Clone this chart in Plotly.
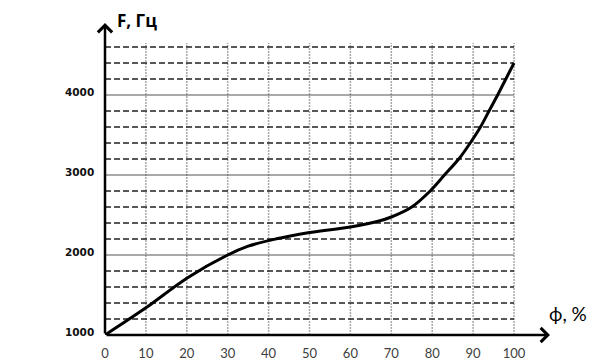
import plotly.graph_objects as go

# Curve data
phi = [0, 10, 20, 30, 35, 40, 45, 50, 60, 67, 70, 75, 79.5, 83, 86.5, 89.3, 91.8, 93.9, 96, 98, 100]
freq = [1000, 1340, 1710, 2000, 2110, 2180, 2235, 2280, 2350, 2425, 2475, 2600, 2800, 3000, 3200, 3400, 3600, 3800, 4000, 4200, 4400]

x_ticks = [0, 10, 20, 30, 40, 50, 60, 70, 80, 90, 100]
y_major = [1000, 2000, 3000, 4000]
y_minor = [v for v in range(1200, 4800, 200) if v % 1000 != 0]
x_grid = [10, 20, 30, 40, 50, 60, 70, 80, 90, 100]

x_max = 108.8
y_max = 4900
grid_top = 4650

fig = go.Figure()
fig.add_trace(go.Scatter(x=phi, y=freq, mode="lines",
                         line=dict(color="black", width=3, shape="spline", smoothing=0.8),
                         hoverinfo="skip"))

shapes = []
for gx in x_grid:
    shapes.append(dict(type="line", xref="x", yref="y", x0=gx, x1=gx, y0=1000, y1=grid_top,
                       line=dict(color="#a8a8a8", width=1.5, dash="2px,1px"), layer="below"))
for gy in y_minor:
    shapes.append(dict(type="line", xref="x", yref="y", x0=0, x1=100, y0=gy, y1=gy,
                       line=dict(color="#222222", width=1.6, dash="6px,3px"), layer="below"))
for gy in y_major[1:]:
    shapes.append(dict(type="line", xref="x", yref="y", x0=0, x1=100, y0=gy, y1=gy,
                       line=dict(color="#555555", width=1), layer="below"))

annotations = []
# axes with arrows
annotations.append(dict(x=x_max, y=1000, ax=0, ay=1000, xref="x", yref="y", axref="x", ayref="y",
                        showarrow=True, arrowhead=4, arrowsize=1.1, arrowwidth=2.5, arrowcolor="black", text=""))
annotations.append(dict(x=0, y=y_max, ax=0, ay=1000, xref="x", yref="y", axref="x", ayref="y",
                        showarrow=True, arrowhead=4, arrowsize=1.1, arrowwidth=2.5, arrowcolor="black", text=""))
# y tick labels
for v in y_major:
    annotations.append(dict(x=0, y=v, xref="x", yref="y", text="<b>%d</b>" % v, showarrow=False,
                            xanchor="right", yanchor="middle", xshift=-9, yshift=3,
                            font=dict(family="DejaVu Sans", size=10.5, color="#111111")))
# axis titles
annotations.append(dict(x=0, y=y_max, xref="x", yref="y", text="<b>F, Гц</b>", showarrow=False,
                        xanchor="left", yanchor="middle", xshift=10, yshift=3,
                        font=dict(family="Open Sans", size=17, color="black")))
annotations.append(dict(x=x_max, y=1000, xref="x", yref="y", text="ф, %", showarrow=False,
                        xanchor="left", yanchor="middle", xshift=-3, yshift=22,
                        font=dict(family="Lato", size=19, color="black")))

fig.update_layout(
    width=612, height=364,
    margin=dict(l=97, r=70, t=15, b=37, autoexpand=False),
    paper_bgcolor="white", plot_bgcolor="white",
    showlegend=False,
    shapes=shapes, annotations=annotations,
    xaxis=dict(range=[0, x_max], showgrid=False, zeroline=False, showline=False,
               automargin=False,
               tickmode="array", tickvals=x_ticks, ticktext=[str(t) for t in x_ticks],
               ticks="", ticklabelstandoff=9,
               tickfont=dict(family="Lato", size=13, color="#404040"), fixedrange=True),
    yaxis=dict(range=[1000, y_max], showgrid=False, zeroline=False, showline=False,
               automargin=False,
               showticklabels=False, ticks="", fixedrange=True),
)
fig.write_html("out.html")
